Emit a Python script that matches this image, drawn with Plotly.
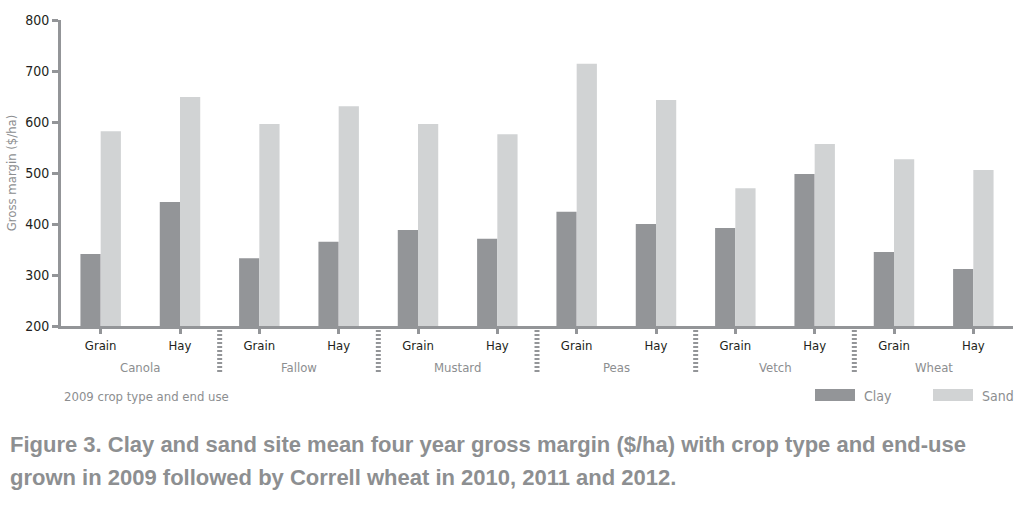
import plotly.graph_objects as go

crops = ["Canola", "Fallow", "Mustard", "Peas", "Vetch", "Wheat"]
end_uses = ["Grain", "Hay"]
clay = [341, 443, 333, 365, 388, 371, 424, 400, 392, 498, 345, 312]
sand = [582, 649, 596, 631, 596, 576, 714, 643, 470, 557, 527, 506]
y_ticks = [200, 300, 400, 500, 600, 700, 800]
caption_lines = [
    "Figure 3. Clay and sand site mean four year gross margin ($/ha) with crop type and end-use",
    "grown in 2009 followed by Correll wheat in 2010, 2011 and 2012.",
]

labels = [u for c in crops for u in end_uses]
xpos = list(range(len(labels)))

CLAY = "#939598"
SAND = "#d1d3d4"
AXIS = "#939598"
DARK = "#231f20"
GREY = "#8c8e90"
FONT = "DejaVu Sans Condensed, sans-serif"

# plot area in pixels
L, R, T, B = 61, 1013, 20, 326
W, H = R - L, B - T


def px(x):
    return (x - L) / W


def py(y):
    return (B - y) / H


fig = go.Figure()
fig.add_trace(go.Bar(x=xpos, y=clay, name="Clay", marker=dict(color=CLAY, line=dict(width=0))))
fig.add_trace(go.Bar(x=xpos, y=sand, name="Sand", marker=dict(color=SAND, line=dict(width=0))))

fig.update_layout(
    width=1016, height=508,
    margin=dict(l=L, r=1016 - R, t=T, b=508 - B, pad=0),
    paper_bgcolor="white", plot_bgcolor="white",
    barmode="group", bargap=0.49, bargroupgap=0,
    showlegend=False,
    font=dict(family=FONT, size=13, color=DARK),
)
fig.update_xaxes(
    range=[-0.5, len(labels) - 0.5],
    tickmode="array", tickvals=xpos, ticktext=labels,
    showline=True, linecolor=AXIS, linewidth=3,
    ticks="outside", ticklen=5, tickwidth=3, tickcolor=AXIS,
    showgrid=False, zeroline=False,
    tickfont=dict(family=FONT, size=13, color=DARK),
)
fig.update_yaxes(
    range=[200, 800], tickvals=y_ticks,
    showline=True, linecolor=AXIS, linewidth=3,
    ticks="outside", ticklen=6, tickwidth=3, tickcolor=AXIS,
    showgrid=False, zeroline=False,
    tickfont=dict(family=FONT, size=14, color=DARK),
    title=dict(text="Gross margin ($/ha)", font=dict(family=FONT, size=13, color=GREY), standoff=6),
)

# crop group labels and separators
for i, c in enumerate(crops):
    fig.add_annotation(x=2 * i + 0.5, xref="x", y=py(367), yref="paper",
                       text=c, showarrow=False, yanchor="middle",
                       font=dict(family=FONT, size=13, color=GREY))
    if i < len(crops) - 1:
        fig.add_shape(type="line", xref="x", yref="paper",
                      x0=2 * i + 1.5, x1=2 * i + 1.5, y0=py(330), y1=py(372),
                      line=dict(color=AXIS, width=5, dash="2px,2px"))

fig.add_annotation(x=px(62), xref="paper", y=py(396), yref="paper",
                   text="2009 crop type and end use", showarrow=False,
                   xanchor="left", yanchor="middle",
                   font=dict(family=FONT, size=13, color=GREY))

# legend drawn manually
for name, col, x0 in [("Clay", CLAY, 815), ("Sand", SAND, 933)]:
    fig.add_shape(type="rect", xref="paper", yref="paper",
                  x0=px(x0), x1=px(x0 + 40), y0=py(401), y1=py(389),
                  fillcolor=col, line=dict(width=0))
    fig.add_annotation(x=px(x0 + 47), xref="paper", y=py(396), yref="paper",
                       text=name, showarrow=False, xanchor="left", yanchor="middle",
                       font=dict(family=FONT, size=14, color=GREY))

for line, yc in zip(caption_lines, [444, 477]):
    fig.add_annotation(x=px(8), xref="paper", y=py(yc), yref="paper",
                       text="<b>" + line + "</b>", showarrow=False,
                       xanchor="left", yanchor="middle", align="left",
                       font=dict(family="Liberation Sans, sans-serif", size=22, color="#8d8f91"))

fig.write_html("out.html", config={"displayModeBar": False},
               post_script="document.body.style.margin='0';document.body.style.overflow='hidden';")
